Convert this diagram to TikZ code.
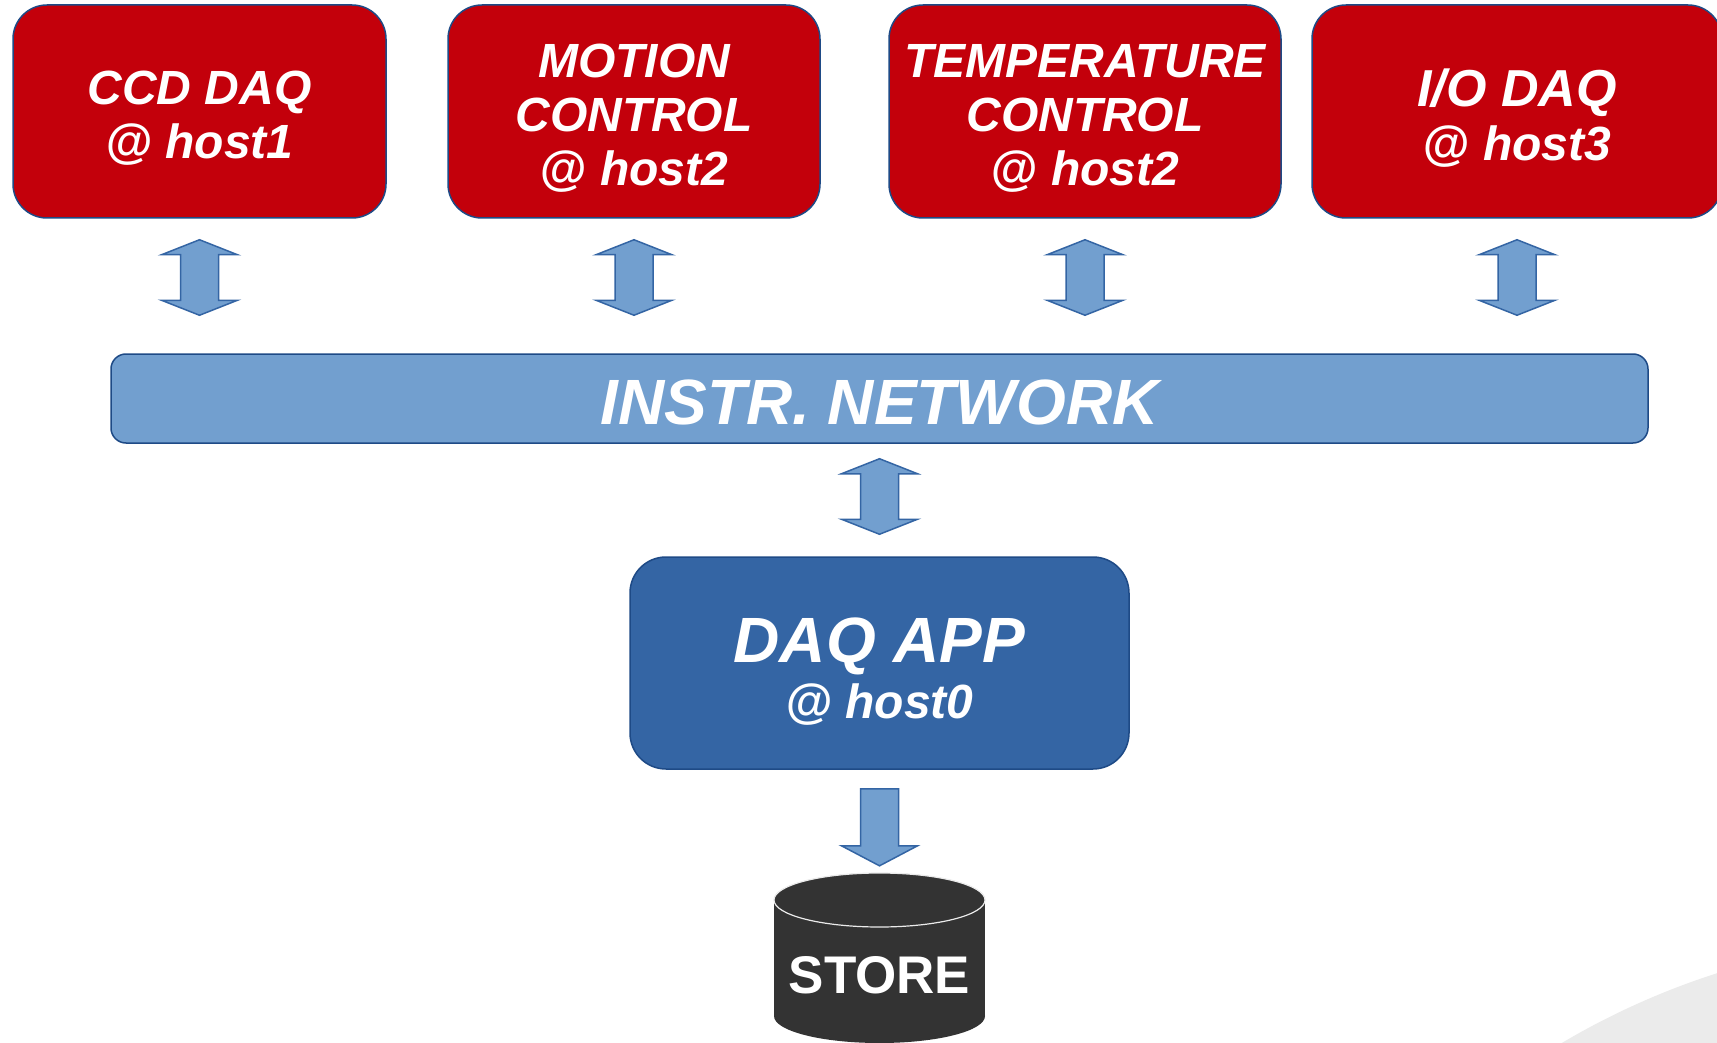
\documentclass[tikz,border=0pt]{standalone}
\usepackage{fontspec}
\setmainfont{Liberation Sans}
\usetikzlibrary{calc}
\definecolor{boxred}{HTML}{C3000B}
\definecolor{boxline}{HTML}{1E4A86}
\definecolor{skyA}{HTML}{729FCF}
\definecolor{skyB}{HTML}{3465A4}
\definecolor{storegray}{HTML}{333333}
\definecolor{bggray}{HTML}{EBEBEB}
\newcommand\txtA{\fontsize{48}{54}\selectfont\bfseries\itshape}
\newcommand\udarr[4]{%
  \draw[barrow] let \p1=(#1), \p2=(#2) in
    (\x1,\y1-#3) -- (\x1+38pt,\y1-#3-15pt) -- (\x1+19pt,\y1-#3-15pt)
    -- (\x1+19pt,\y2+#4+15pt) -- (\x1+38pt,\y2+#4+15pt) -- (\x1,\y2+#4)
    -- (\x1-38pt,\y2+#4+15pt) -- (\x1-19pt,\y2+#4+15pt)
    -- (\x1-19pt,\y1-#3-15pt) -- (\x1-38pt,\y1-#3-15pt) -- cycle;}
\begin{document}
\begin{tikzpicture}[x=1pt,y=-1pt,
  redbox/.style={draw=boxline, line width=1.5pt, fill=boxred, rounded corners=34pt,
    minimum height=213pt, inner sep=0pt},
  boxtext/.style={text=white, align=center, inner sep=0pt, font=\txtA},
  barrow/.style={draw=skyB, line width=1.5pt, fill=skyA, line join=miter}]
\useasboundingbox (0,0) rectangle (1717,1043);
\clip (0,0) rectangle (1717,1043);
\fill[white] (0,0) rectangle (1717,1043);
\fill[bggray] (1950,1700) circle[radius=763pt];

\node[redbox, minimum width=373pt] (ccd) at (199.5,111.5) {};
\node[redbox, minimum width=372pt] (motion) at (634,111.5) {};
\node[redbox, minimum width=392pt] (temp) at (1085,111.5) {};
\node[redbox, minimum width=410pt] (io) at (1517,111.5) {};
\node[boxtext] (ccdt) at ([yshift=-6.5pt]ccd.center) {CCD DAQ\\@ host1};
\node[boxtext] (motiont) at ([yshift=-6.5pt]motion.center) {MOTION\\CONTROL\\@ host2};
\node[boxtext] (tempt) at ([yshift=-6.5pt]temp.center) {TEMPERATURE\\CONTROL\\@ host2};
\node[boxtext] (iot) at ([yshift=-7pt]io.center) {{\fontsize{52}{56}\selectfont I/O DAQ}\\@ host3};

\node[draw=boxline, line width=1.5pt, fill=skyA, rounded corners=15pt,
  minimum width=1537pt, minimum height=89pt, inner sep=0pt] (net) at (879.5,398.5) {};
\node[text=white, inner sep=0pt, font=\fontsize{64}{70}\selectfont\bfseries\itshape]
  (nett) at ([yshift=-4pt]net.center) {INSTR. NETWORK};

\node[draw=boxline, line width=1.5pt, fill=skyB, rounded corners=36pt,
  minimum width=499pt, minimum height=212pt, inner sep=0pt] (daq) at (879.5,663) {};
\node[boxtext] (daqt) at ([yshift=-9pt]daq.center)
  {{\fontsize{64}{66}\selectfont DAQ APP}\\[2pt]@ host0};

% store cylinder
\node[inner sep=0pt, minimum width=211pt, minimum height=170pt] (store) at (879.5,958) {};
\fill[storegray] (774,900) rectangle (985,1016);
\fill[storegray] (879.5,1016) ellipse[x radius=105.5pt, y radius=27pt];
\fill[storegray] (879.5,900) ellipse[x radius=105.5pt, y radius=27pt];
\draw[white!92!black, line width=1.2pt] (879.5,900) ellipse[x radius=105.5pt, y radius=27pt];
\node[text=white, inner sep=0pt, font=\fontsize{53}{56}\selectfont\bfseries]
  (storet) at ([yshift=-17pt]store.center) {STORE};

\udarr{ccd.south}{net.north}{21pt}{38pt}
\udarr{motion.south}{net.north}{21pt}{38pt}
\udarr{temp.south}{net.north}{21pt}{38pt}
\udarr{io.south}{net.north}{21pt}{38pt}
\udarr{net.south}{daq.north}{15pt}{22pt}

\draw[barrow] let \p1=(daq.south), \p2=(store.north) in
  (\x1-19pt,\y1-19pt) -- (\x1+19pt,\y1-19pt) -- (\x1+19pt,\y2+27pt)
  -- (\x1+38pt,\y2+27pt) -- (\x1,\y2+7pt) -- (\x1-38pt,\y2+27pt)
  -- (\x1-19pt,\y2+27pt) -- cycle;
\end{tikzpicture}
\end{document}
